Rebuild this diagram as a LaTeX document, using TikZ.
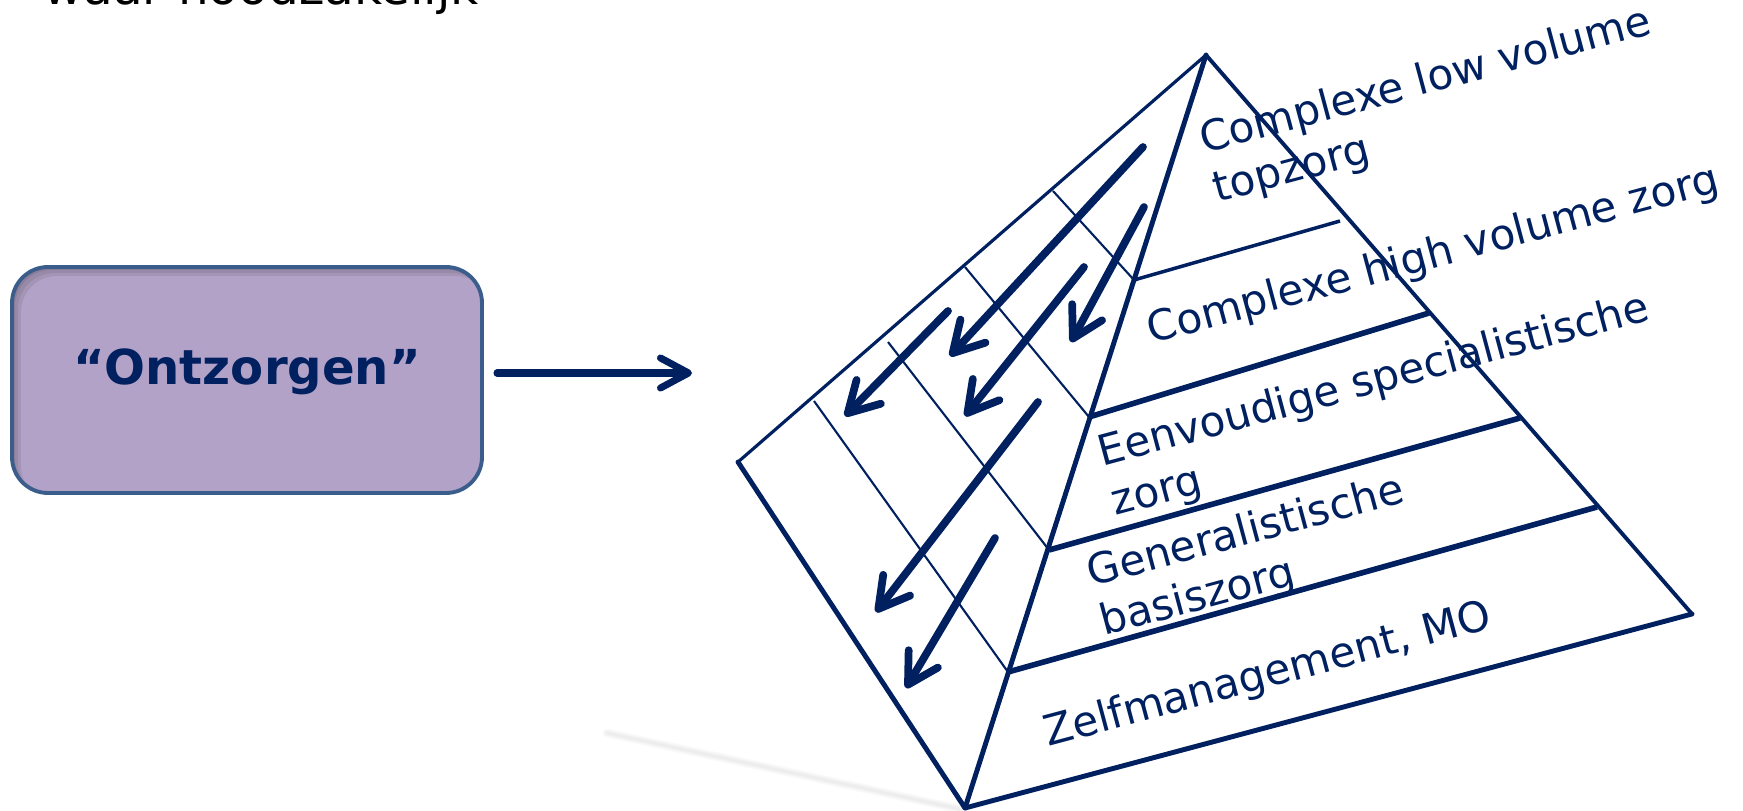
\documentclass[tikz,border=0pt]{standalone}
\usepackage{fontspec}
\setmainfont{DejaVu Sans}
\usepackage{xcolor}
\usepackage{tikz}
\usetikzlibrary{calc}
\usetikzlibrary{arrows.meta}

\definecolor{navy}{HTML}{002060}
\definecolor{lavender}{HTML}{B3A2C7}
\definecolor{steel}{HTML}{3A5D8C}

\tikzset{
  flow/.style={navy, line width=2.2pt, line cap=round, -{Straight Barb[round,length=3mm,width=3.4mm]}},
  edge/.style={navy, line width=1.4pt, line cap=round, line join=round},
  layer/.style={navy, line width=1.6pt},
  split/.style={navy, line width=0.6pt},
  levellabel/.style={navy, rotate=15, anchor=base west, inner sep=0pt, align=left, font=\fontsize{12}{14.5}\selectfont},
}

\begin{document}
\begin{tikzpicture}
        \useasboundingbox (0,0) rectangle (17.43,8.11);
        %TITEL
        \node[anchor=base west, inner sep=0pt, font=\fontsize{13.8}{16}\selectfont] (titel) at (0.43,8.06) {waar noodzakelijk};
        %KOTAK
        \node[fill=lavender, rounded corners=0.36cm, minimum width=4.70cm, minimum height=2.26cm, outer sep=0pt, text=navy, font=\fontsize{13.7}{16}\selectfont\bfseries, text height=0.37cm, text depth=0.27cm] (ontz) at (2.47,4.31) {“Ontzorgen”};
        \begin{scope}
          \clip[rounded corners=0.36cm] (ontz.south west) rectangle (ontz.north east);
          \foreach \s in {0.03,0.06,0.09}
            \fill[black, opacity=0.08, even odd rule, rounded corners=0.36cm] (ontz.south west) rectangle (ontz.north east) ([shift={(\s,-\s)}]ontz.south west) rectangle ([shift={(\s,-\s)}]ontz.north east);
        \end{scope}
        \draw[steel, line width=1.1pt, rounded corners=0.36cm] (ontz.south west) rectangle (ontz.north east);
        \coordinate (pin) at (6.92,4.38);
        \draw[navy, line width=2pt, line cap=round, shorten <=0.15cm, -{Straight Barb[round,length=2.8mm,width=3mm]}] (ontz.east |- pin) -- (pin);
        %BAYANGAN
        \foreach \w in {2.5,1.6,0.8}
          \draw[black, opacity=0.025, line width=\w pt, line cap=round] (6.07,0.78) -- (9.6,0.02);
        %PIRAMIDE
        \coordinate (T) at (12.06,7.56);
        \coordinate (L) at (7.38,3.49);
        \coordinate (B) at (9.65,0.03);
        \coordinate (R) at (16.92,1.97);
        \coordinate (P1) at (11.34,5.31);
        \coordinate (P2) at (10.89,3.94);
        \coordinate (P3) at (10.49,2.61);
        \coordinate (P4) at (10.08,1.39);
        \coordinate (Q1) at (13.40,5.90);
        \coordinate (Q2) at (14.29,4.98);
        \coordinate (Q3) at (15.20,3.93);
        \coordinate (Q4) at (15.97,3.04);
        \coordinate (S1) at (10.53,6.20);
        \coordinate (S2) at (9.65,5.44);
        \coordinate (S3) at (8.88,4.69);
        \coordinate (S4) at (8.14,4.10);
        \draw[navy, line width=0.9pt, line cap=round] (T) -- (L);
        \draw[navy, line width=1.1pt, line cap=round] (T) -- (R);
        \draw[edge] (L) -- (B) -- (R);
        \draw[edge] (T) -- (B);
        \draw[navy, line width=1pt] (P1) -- (Q1);
        \foreach \i in {2,3,4} \draw[layer] (P\i) -- (Q\i);
        \foreach \i in {1,...,4} \draw[split] (S\i) -- (P\i);
        %PANAH
        \coordinate (u1) at (11.43,6.64); \coordinate (v1) at (9.50,4.55);
        \coordinate (u2) at (11.44,6.04); \coordinate (v2) at (10.71,4.69);
        \coordinate (u3) at (9.48,5.00);  \coordinate (v3) at (8.45,3.95);
        \coordinate (u4) at (10.84,5.44); \coordinate (v4) at (9.65,3.95);
        \coordinate (u5) at (10.38,4.09); \coordinate (v5) at (8.76,1.99);
        \coordinate (u6) at (9.95,2.73);  \coordinate (v6) at (9.06,1.23);
        \foreach \i in {1,...,6} \draw[flow] (u\i) -- (v\i);
        %LABEL (base west = baseline of the last line)
        \node[levellabel] (top) at (12.17,6.08) {Complexe low volume\\topzorg};
        \node[levellabel] (high) at (11.51,4.67) {Complexe high volume zorg};
        \node[levellabel] (spec) at (11.15,2.95) {Eenvoudige specialistische\\zorg};
        \node[levellabel] (basis) at (11.04,1.75) {Generalistische\\basiszorg};
        \node[levellabel] (zelf) at (10.48,0.64) {Zelfmanagement, MO};
\end{tikzpicture}
\end{document}
